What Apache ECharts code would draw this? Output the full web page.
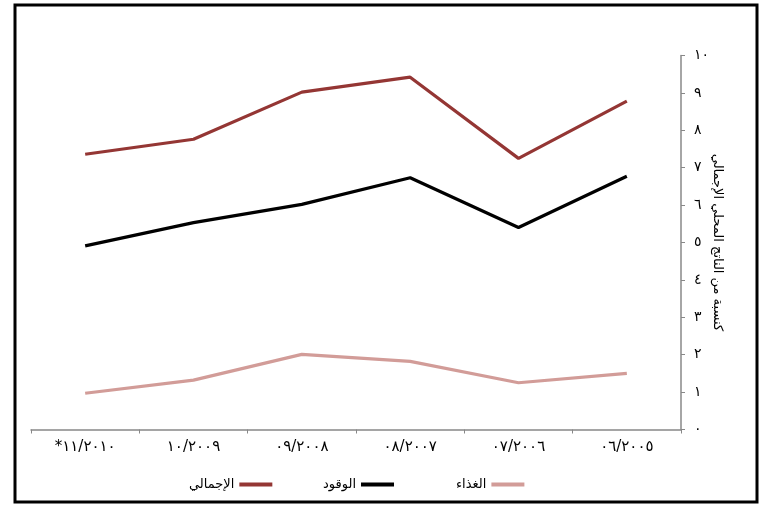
<!DOCTYPE html>
<html>
<head>
<meta charset="utf-8">
<script src="https://cdn.jsdelivr.net/npm/echarts@6/dist/echarts.min.js"></script>
<style>
  html, body { margin: 0; padding: 0; background: #fff; }
  #main { width: 766px; height: 505px; }
</style>
</head>
<body>
<div id="main"></div>
<script>
// السنوات (من اليسار إلى اليمين كما في الرسم)
var years = ['*١١/٢٠١٠', '١٠/٢٠٠٩', '٠٩/٢٠٠٨', '٠٨/٢٠٠٧', '٠٧/٢٠٠٦', '٠٦/٢٠٠٥'];
var yTicks = ['٠', '١', '٢', '٣', '٤', '٥', '٦', '٧', '٨', '٩', '١٠'];

var total = [7.36, 7.76, 9.02, 9.42, 7.25, 8.78];
var fuel = [4.91, 5.53, 6.02, 6.73, 5.40, 6.77];
var food = [0.97, 1.32, 2.01, 1.82, 1.25, 1.50];

var font = 'DejaVu Sans';

function makeLine(name, data, color) {
  return {
    name: name,
    type: 'line',
    data: data,
    symbol: 'none',
    lineStyle: { color: color, width: 3.2 },
    itemStyle: { color: color }
  };
}

// legend item: text on the left, line on the right
function makeLegend(name, left) {
  return {
    bottom: 9,
    left: left,
    align: 'right',
    itemWidth: 33,
    itemHeight: 4,
    icon: 'rect',
    textStyle: { fontFamily: font, fontSize: 13, color: '#000' },
    data: [name]
  };
}

var myChart = echarts.init(document.getElementById('main'));

var option = {
  animation: false,
  backgroundColor: '#fff',
  textStyle: { fontFamily: font },
  graphic: [
    {
      type: 'rect',
      shape: { x: 15, y: 5, width: 742, height: 497 },
      style: { fill: 'none', stroke: '#000', lineWidth: 3 }
    }
  ],
  grid: { left: 31, right: 85, top: 55.5, bottom: 75.5 },
  legend: [
    makeLegend('الإجمالي', 184),
    makeLegend('الوقود', 318),
    makeLegend('الغذاء', 451)
  ],
  xAxis: {
    type: 'category',
    data: years,
    boundaryGap: true,
    axisLine: { lineStyle: { color: '#888', width: 1.5 } },
    axisTick: { show: true, length: 4, lineStyle: { color: '#888' } },
    axisLabel: { fontFamily: font, fontSize: 15, color: '#000', margin: 10 },
    splitLine: { show: false }
  },
  yAxis: {
    type: 'value',
    position: 'right',
    min: 0,
    max: 10,
    interval: 1,
    axisLine: { show: true, lineStyle: { color: '#888', width: 1.5 } },
    axisTick: { show: true, length: 4, lineStyle: { color: '#888' } },
    axisLabel: {
      fontFamily: font,
      fontSize: 14,
      color: '#000',
      margin: 13,
      formatter: function (v) { return yTicks[Math.round(v)]; }
    },
    splitLine: { show: false },
    name: 'كنسبة من الناتج المحلي الإجمالي',
    nameLocation: 'middle',
    nameRotate: -90,
    nameGap: 30,
    nameMoveOverlap: false,
    nameTextStyle: { fontFamily: font, fontSize: 13, color: '#000' }
  },
  series: [
    makeLine('الإجمالي', total, '#943634'),
    makeLine('الوقود', fuel, '#000000'),
    makeLine('الغذاء', food, '#d29c98')
  ]
};

if (option && typeof option === 'object') {
  myChart.setOption(option);
}

window.addEventListener('resize', myChart.resize);
</script>
</body>
</html>
